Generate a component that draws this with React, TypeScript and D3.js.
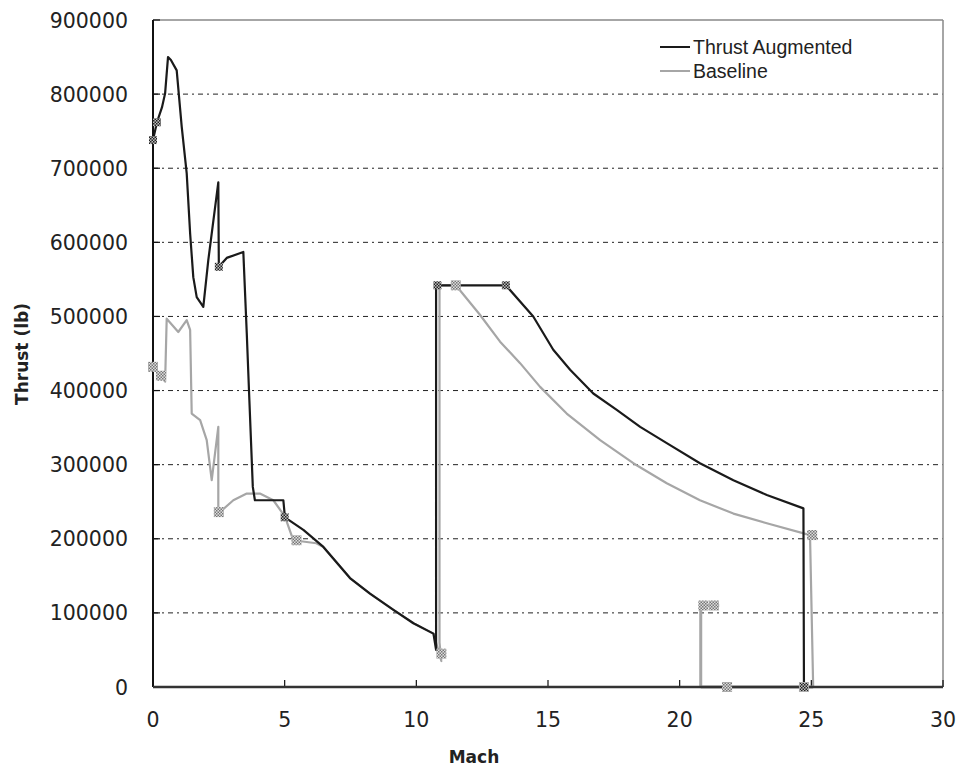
import React from "react";
import * as d3 from "d3";

const yTicks = [0, 100000, 200000, 300000, 400000, 500000, 600000, 700000, 800000, 900000];
const xTicks = [0, 5, 10, 15, 20, 25, 30];

const augMach = [0, 0.15, 0.34, 0.46, 0.57, 0.68, 0.9, 1.09, 1.28, 1.41, 1.53, 1.66, 1.91, 2.1, 2.48, 2.5, 2.8, 3.43, 3.56, 3.66, 3.79, 3.87, 4.95, 5.01, 5.71, 6.47, 7.48, 8.24, 9.13, 9.89, 10.65, 10.75, 10.75, 13.4, 14.44, 15.2, 15.84, 16.72, 17.61, 18.5, 19.51, 20.77, 22.04, 23.31, 24.7, 24.72, 27.5];
const augThrust = [738000, 762000, 782000, 801000, 850000, 846000, 832000, 756000, 693000, 612000, 553000, 526000, 513000, 576000, 681000, 567000, 579000, 587000, 478000, 387000, 270000, 252000, 252000, 229000, 212000, 189000, 147000, 126000, 104000, 86000, 72000, 50000, 542000, 542000, 500000, 455000, 428000, 396000, 374000, 351000, 329000, 302000, 279000, 259000, 241000, 0, 0];

const baseMach = [0, 0.46, 0.52, 0.96, 1.28, 1.41, 1.47, 1.79, 2.04, 2.23, 2.48, 2.48, 2.54, 3.05, 3.56, 4.06, 4.57, 5.01, 5.33, 6.2, 6.47, 7.48, 8.24, 9.13, 9.89, 10.65, 10.95, 10.88, 10.88, 11.5, 12.4, 13.18, 13.94, 14.7, 15.71, 16.98, 18.24, 19.51, 20.77, 22.04, 23.31, 24.95, 25.07, 27.5];
const baseThrust = [432000, 412000, 497000, 479000, 495000, 482000, 369000, 360000, 333000, 279000, 351000, 243000, 236000, 252000, 261000, 261000, 252000, 230000, 198000, 194000, 189000, 147000, 126000, 104000, 86000, 72000, 35000, 60000, 542000, 542000, 503000, 466000, 437000, 405000, 369000, 333000, 302000, 275000, 252000, 234000, 221000, 205000, 0, 0];

const baseSpikeMach = [20.8, 20.8, 21.5];
const baseSpikeThrust = [0, 110000, 110000];
const baseFloorMach = [20.8, 25.07];
const baseFloorThrust = [0, 0];

const augMarkMach = [0, 0.15, 2.5, 5.0, 10.8, 13.4, 24.72];
const augMarkThrust = [738000, 762000, 567000, 229000, 542000, 542000, 0];
const baseMarkMach = [0, 0.3, 2.5, 5.45, 10.95, 11.5, 25.03, 20.9, 21.3, 21.8, 24.72];
const baseMarkThrust = [432000, 420000, 236000, 198000, 45000, 542000, 205000, 110000, 110000, 0, 0];

const seriesNames = ["Thrust Augmented", "Baseline"];
const seriesColors = ["#1a1a1a", "#a6a6a6"];

const W = 961, H = 772;
const left = 153, right = 943, top = 20, bottom = 687;

export default function App() {
  const x = d3.scaleLinear().domain([0, 30]).range([left, right]);
  const y = d3.scaleLinear().domain([0, 900000]).range([bottom, top]);
  const line = d3.line<[number, number]>().x(d => x(d[0])).y(d => y(d[1]));
  const zip = (a: number[], b: number[]) => a.map((v, i) => [v, b[i]] as [number, number]);
  const font = "'DejaVu Sans', Verdana, sans-serif";

  return (
    <svg width={W} height={H} style={{ position: "absolute", left: 0, top: 0, background: "#fff" }}>
      <defs>
        <pattern id="hatchG" width="3" height="3" patternUnits="userSpaceOnUse">
          <rect width="3" height="3" fill="#ddd" />
          <rect width="1.5" height="1.5" fill="#777" />
          <rect x="1.5" y="1.5" width="1.5" height="1.5" fill="#777" />
        </pattern>
        <pattern id="hatchB" width="3" height="3" patternUnits="userSpaceOnUse">
          <rect width="3" height="3" fill="#bbb" />
          <rect width="1.5" height="1.5" fill="#222" />
          <rect x="1.5" y="1.5" width="1.5" height="1.5" fill="#222" />
        </pattern>
      </defs>
      {yTicks.filter(t => t > 0 && t < 900000).map(t => (
        <line key={t} x1={left} x2={right} y1={y(t)} y2={y(t)} stroke="#222" strokeWidth={1} strokeDasharray="5,4,2,4" />
      ))}
      <line x1={left} x2={right} y1={top} y2={top} stroke="#888" strokeWidth={1.5} />
      <line x1={right} x2={right} y1={top} y2={bottom} stroke="#888" strokeWidth={1.5} />
      {yTicks.map(t => (
        <g key={t}>
          <line x1={left} x2={left + 7} y1={y(t)} y2={y(t)} stroke="#111" strokeWidth={1.2} />
          <text x={128} y={y(t) + 7.5} textAnchor="end" fontFamily={font} fontSize={20.5} fill="#222">{t}</text>
        </g>
      ))}
      {xTicks.map(t => (
        <g key={t}>
          <line x1={x(t)} x2={x(t)} y1={bottom} y2={bottom - 7} stroke="#111" strokeWidth={1.2} />
          <text x={x(t)} y={727} textAnchor="middle" fontFamily={font} fontSize={20.5} fill="#222">{t}</text>
        </g>
      ))}
      <path d={line(zip(baseFloorMach, baseFloorThrust)) || ""} fill="none" stroke={seriesColors[1]} strokeWidth={3} />
      <path d={line(zip(baseSpikeMach, baseSpikeThrust)) || ""} fill="none" stroke={seriesColors[1]} strokeWidth={3} />
      <path d={line(zip(baseMach, baseThrust)) || ""} fill="none" stroke={seriesColors[1]} strokeWidth={2.2} strokeLinejoin="round" />
      <path d={line(zip(augMach, augThrust)) || ""} fill="none" stroke={seriesColors[0]} strokeWidth={2.2} strokeLinejoin="round" />
      <line x1={left} x2={left} y1={top} y2={bottom} stroke="#111" strokeWidth={2} />
      <line x1={left} x2={right} y1={bottom} y2={bottom} stroke="#333" strokeWidth={2.5} />
      {zip(baseMarkMach, baseMarkThrust).map((d, i) => (
        <rect key={"b" + i} x={x(d[0]) - 5} y={y(d[1]) - 5} width={10} height={10} fill="url(#hatchG)" />
      ))}
      {zip(augMarkMach, augMarkThrust).map((d, i) => (
        <rect key={"a" + i} x={x(d[0]) - 4} y={y(d[1]) - 4} width={8} height={8} fill="url(#hatchB)" />
      ))}
      {seriesNames.map((n, i) => (
        <g key={n}>
          <line x1={660} x2={690} y1={47 + i * 24} y2={47 + i * 24} stroke={seriesColors[i]} strokeWidth={2} />
          <text x={693} y={54 + i * 24} fontFamily="'Liberation Sans', Arial, sans-serif" fontSize={19.5} fill="#222">{n}</text>
        </g>
      ))}
      <text x={474} y={763} textAnchor="middle" fontFamily={font} fontWeight="bold" fontSize={17} fill="#222">Mach</text>
      <text transform={`translate(28,${354}) rotate(-90)`} textAnchor="middle" fontFamily={font} fontWeight="bold" fontSize={17} fill="#222">Thrust (lb)</text>
    </svg>
  );
}
